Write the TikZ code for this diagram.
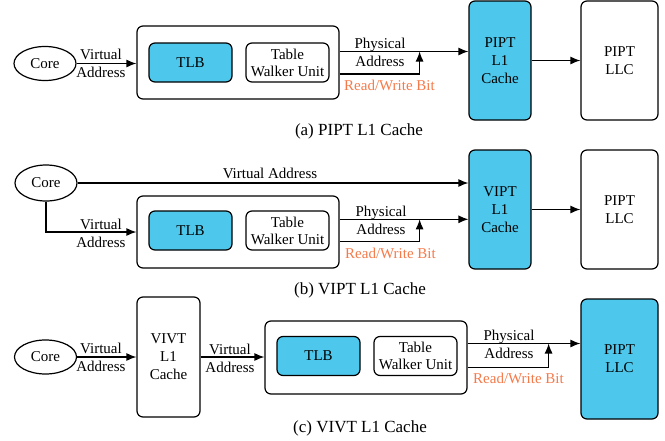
\documentclass[tikz,border=0pt]{standalone}
\usepackage{fontspec}
\setmainfont{Liberation Serif}
\usetikzlibrary{shapes.geometric,arrows.meta,calc}
\definecolor{cacheblue}{HTML}{4DC8EC}
\definecolor{rworange}{HTML}{F57A4A}
\begin{document}
\begin{tikzpicture}[x=1pt,y=-1pt,
  every node/.style={font=\fontsize{15}{18}\selectfont},
  blk/.style={draw,line width=1.2pt,rounded corners=6pt,inner sep=0pt,align=center},
  corenode/.style={draw,ellipse,line width=1.2pt,inner sep=0pt,minimum width=62pt,minimum height=34pt},
  mmubox/.style={blk,minimum width=202pt,minimum height=73pt},
  unit/.style={blk,minimum width=83pt,minimum height=39pt},
  cachebox/.style={blk,minimum height=119pt},
  filled/.style={fill=cacheblue},
  lbl/.style={inner sep=0pt,align=center},
  rw/.style={inner sep=0pt,text=rworange},
  caption/.style={inner sep=0pt,font=\fontsize{17}{20}\selectfont},
  arr/.style={line width=1.2pt,-{Latex[length=10pt,width=8pt]}},
  ln/.style={line width=1.2pt}]
\useasboundingbox (0,0) rectangle (665,440);

% ---------- (a) ----------
\node[corenode] (corea) at (45,63.5) {Core};
\node[mmubox] (mmua) at (238,62.5) {};
\node[unit,filled] (tlba) at (190.5,62.5) {TLB};
\node[unit] (twua) at (287.5,62.5) {Table\\[-1pt]Walker Unit};
\node[cachebox,filled,minimum width=62pt] (l1a) at (500,60.5) {PIPT\\L1\\Cache};
\node[cachebox,minimum width=77pt] (llca) at (619.5,60.5) {PIPT\\LLC};
\draw[arr] (corea.east) -- (corea.east -| mmua.west);
\node[lbl] (va1) at (101,63) {Virtual\\Address};
\coordinate (pha) at ([yshift=11pt]mmua.east);
\coordinate (rwa) at ([yshift=-11.5pt]mmua.east);
\draw[arr] (pha) -- (pha -| l1a.west);
\draw[arr] (rwa) -| ($(pha)+(80,0)$);
\node[lbl] (pla) at (380,52) {Physical\\Address};
\node[rw] (rwla) at (389.5,85) {Read/Write Bit};
\draw[arr] (l1a) -- (llca);
\node[caption] (capa) at (359,131) {(a) PIPT L1 Cache};

% ---------- (b) ----------
\node[corenode,minimum height=36pt] (coreb) at (46,183) {Core};
\node[mmubox,minimum height=72pt] (mmub) at (238,232) {};
\node[unit,filled] (tlbb) at (190.5,230.5) {TLB};
\node[unit] (twub) at (287.5,230.5) {Table\\[-1pt]Walker Unit};
\node[cachebox,filled,minimum width=62pt] (l1b) at (500,209.5) {VIPT\\L1\\Cache};
\node[cachebox,minimum width=77pt] (llcb) at (619.5,209.5) {PIPT\\LLC};
\draw[arr] (coreb.east) -- (coreb.east -| l1b.west);
\node[lbl] (vab) at (270,173) {Virtual Address};
\draw[arr] (coreb.south) |- (mmub.west);
\node[lbl] (vab2) at (101,233) {Virtual\\Address};
\coordinate (phb) at ([yshift=12.7pt]mmub.east);
\coordinate (rwb) at ([yshift=-9.7pt]mmub.east);
\draw[arr] (phb) -- (phb -| l1b.west);
\draw[arr] (rwb) -| ($(phb)+(80,0)$);
\node[lbl] (plb) at (381,220) {Physical\\Address};
\node[rw] (rwlb) at (390.5,253) {Read/Write Bit};
\draw[arr] (l1b) -- (llcb);
\node[caption] (capb) at (360,290) {(b) VIPT L1 Cache};

% ---------- (c) ----------
\node[corenode] (corec) at (45.5,357) {Core};
\node[cachebox,minimum width=63pt,minimum height=120pt] (vivt) at (168.5,357) {VIVT\\L1\\Cache};
\draw[arr] (corec.east) -- (corec.east -| vivt.west);
\node[lbl] (vac1) at (101,357.5) {Virtual\\Address};
\node[mmubox] (mmuc) at (366,357.5) {};
\node[unit,filled] (tlbc) at (318.5,356) {TLB};
\node[unit] (twuc) at (415.5,356) {Table\\[-1pt]Walker Unit};
\draw[arr] (vivt.east) -- (vivt.east -| mmuc.west);
\node[lbl] (vac2) at (230,358) {Virtual\\Address};
\node[cachebox,filled,minimum width=77pt,minimum height=120pt] (llcc) at (619.5,359) {PIPT\\LLC};
\coordinate (phc) at ([yshift=14pt]mmuc.east);
\coordinate (rwc) at ([yshift=-9.8pt]mmuc.east);
\draw[arr] (phc) -- (phc -| llcc.west);
\draw[arr] (rwc) -| ($(phc)+(81,0)$);
\node[lbl] (plc) at (509,344.5) {Physical\\Address};
\node[rw] (rwlc) at (518.5,378) {Read/Write Bit};
\node[caption] (capc) at (360,428) {(c) VIVT L1 Cache};
\end{tikzpicture}
\end{document}
